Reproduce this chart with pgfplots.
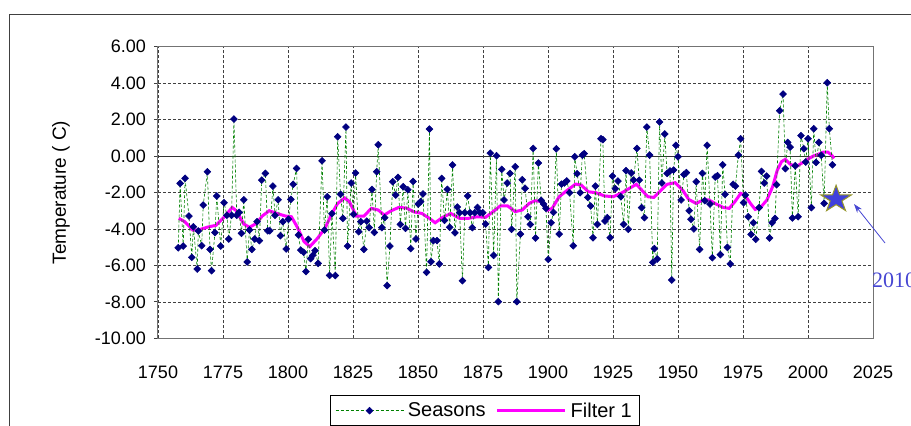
\documentclass[border=0pt]{standalone}
\usepackage{fontspec}
\setmainfont{Liberation Sans}
\newfontfamily\notefont{Liberation Serif}
\usepackage{pgfplots}
\pgfplotsset{compat=1.18}
\usetikzlibrary{arrows.meta}

\definecolor{navy}{RGB}{0,0,128}
\definecolor{seasgreen}{RGB}{0,128,0}
\definecolor{filtmag}{RGB}{255,0,255}
\definecolor{starblue}{RGB}{64,64,220}
\definecolor{starrim}{RGB}{150,150,40}
\definecolor{noteblue}{RGB}{70,70,210}

% filled five-pointed star, slightly wider than tall
\pgfdeclareplotmark{fivestar}{%
  \pgfpathmoveto{\pgfpoint{0pt}{\pgfplotmarksize}}%
  \pgfpathlineto{\pgfpoint{-0.2582\pgfplotmarksize}{0.3090\pgfplotmarksize}}%
  \pgfpathlineto{\pgfpoint{-1.0938\pgfplotmarksize}{0.3090\pgfplotmarksize}}%
  \pgfpathlineto{\pgfpoint{-0.4178\pgfplotmarksize}{-0.1180\pgfplotmarksize}}%
  \pgfpathlineto{\pgfpoint{-0.6760\pgfplotmarksize}{-0.8090\pgfplotmarksize}}%
  \pgfpathlineto{\pgfpoint{0pt}{-0.3820\pgfplotmarksize}}%
  \pgfpathlineto{\pgfpoint{0.6760\pgfplotmarksize}{-0.8090\pgfplotmarksize}}%
  \pgfpathlineto{\pgfpoint{0.4178\pgfplotmarksize}{-0.1180\pgfplotmarksize}}%
  \pgfpathlineto{\pgfpoint{1.0938\pgfplotmarksize}{0.3090\pgfplotmarksize}}%
  \pgfpathlineto{\pgfpoint{0.2582\pgfplotmarksize}{0.3090\pgfplotmarksize}}%
  \pgfpathclose
  \pgfusepathqfillstroke
}

\pgfplotsset{
  seasons/.style={draw=seasgreen, line width=0.6pt, dash pattern=on 3pt off 2pt,
    mark=square*, mark size=2.4pt,
    mark options={solid, rotate=45, fill=navy, draw=navy}},
  filterline/.style={draw=filtmag, line width=3pt, no markers},
}

\begin{document}
\begin{tikzpicture}[x=1pt,y=1pt]
\useasboundingbox (0,0) rectangle (911,426);
\clip (0,0) rectangle (911,426);
% chart-area frame
\draw[black!75, line width=1pt] (9,0) -- (9,411) -- (911,411);

\begin{axis}[
  at={(158pt,87.7pt)}, anchor=south west,
  scale only axis, width=715pt, height=291.6pt,
  xmin=1750, xmax=2025, ymin=-10, ymax=6,
  xtick={1750,1775,...,2025},
  xticklabels={1750,1775,1800,1825,1850,1875,1900,1925,1950,1975,2000,2025},
  ytick={-10,-8,...,6},
  yticklabels={-10.00,-8.00,-6.00,-4.00,-2.00,0.00,2.00,4.00,6.00},
  xmajorgrids, ymajorgrids,
  major grid style={black!75, dash pattern=on 3pt off 2pt, line width=0.7pt},
  axis line style={black!55, line width=1pt},
  xtick pos=bottom, ytick pos=left,
  xtick style={draw=none},
  ytick style={black!75, line width=0.8pt},
  tick align=outside, major tick length=4pt,
  ticklabel style={font=\fontsize{18}{21}\selectfont},
  xticklabel style={anchor=center, yshift=-30pt},
  yticklabel style={anchor=east, inner sep=0pt, xshift=-8pt},
  extra y ticks={0}, extra y tick labels={},
  extra y tick style={ymajorgrids=true,
    major grid style={solid, black!80, line width=1pt},
    tick style={draw=none}},
  ylabel={Temperature ( C)},
  ylabel style={at={(axis description cs:-0.1357,0.5)}, anchor=center,
    font=\fontsize{19}{22}\selectfont},
  legend columns=2,
  legend cell align=left,
  legend style={at={(axis description cs:0.2406,-0.196)}, anchor=north west,
    name=keybox, draw=none, fill=white, font=\fontsize{20}{23}\selectfont,
    inner xsep=5pt, inner ysep=5pt,
    /tikz/every odd column/.append style={column sep=2pt},
    /tikz/every even column/.append style={column sep=8pt}},
  legend image code/.code={%
    \draw[mark repeat=2, mark phase=2, #1]
      plot coordinates {(0pt,0pt) (34pt,0pt) (68pt,0pt)};},
]

% smoothed series
\addplot[filterline, forget plot] coordinates {
(1758.0,-3.42) (1760.3,-3.60) (1763.4,-4.06) (1765.6,-4.06) (1769.0,-3.90)
(1772.3,-3.80) (1775.6,-3.33) (1778.5,-2.82) (1780.1,-3.00) (1783.0,-3.73)
(1785.2,-3.91) (1787.9,-3.69) (1790.1,-3.29) (1792.8,-3.00) (1795.7,-3.15)
(1799.0,-3.29) (1801.3,-3.33) (1803.5,-3.88) (1806.2,-4.70) (1808.4,-4.97)
(1811.3,-4.52) (1814.2,-3.97) (1816.9,-3.15) (1819.1,-2.60) (1821.8,-2.30)
(1823.6,-2.50) (1826.3,-3.29) (1829.2,-3.29) (1832.1,-2.87) (1834.7,-2.96)
(1837.0,-3.24) (1839.7,-3.00) (1842.6,-2.82) (1845.5,-2.85) (1848.6,-3.07)
(1851.5,-3.15) (1854.4,-3.42) (1856.6,-3.66) (1859.3,-3.38) (1862.6,-3.15)
(1866.0,-3.42) (1869.3,-3.42) (1872.7,-3.33) (1876.0,-3.36) (1878.9,-3.05)
(1881.6,-2.74) (1884.5,-2.74) (1887.4,-3.05) (1890.1,-2.96) (1892.7,-2.60)
(1895.0,-2.45) (1897.6,-2.50) (1899.9,-2.96) (1901.6,-2.87) (1904.3,-2.23)
(1907.2,-1.90) (1910.6,-1.54) (1912.8,-1.59) (1915.5,-1.96) (1918.4,-2.01)
(1921.7,-2.19) (1925.1,-2.23) (1928.0,-2.05) (1930.6,-1.83) (1934.0,-1.55)
(1935.8,-1.83) (1938.4,-2.23) (1940.7,-2.27) (1942.9,-1.96) (1945.8,-1.55)
(1948.9,-1.46) (1951.8,-1.87) (1954.1,-2.38) (1957.0,-2.60) (1959.6,-2.41)
(1961.9,-2.41) (1964.6,-2.63) (1967.4,-2.82) (1969.7,-2.87) (1971.9,-2.50)
(1974.1,-2.05) (1975.7,-2.14) (1978.0,-2.63) (1979.7,-2.93) (1982.0,-2.78)
(1984.2,-2.41) (1986.4,-1.68) (1988.2,-0.77) (1989.8,-0.31) (1991.3,-0.18)
(1993.1,-0.44) (1995.3,-0.59) (1997.5,-0.40) (1999.8,-0.18) (2002.0,0.00)
(2004.2,0.11) (2006.0,0.22) (2007.6,0.22) (2009.1,0.05) (2010.0,-0.13)
};

% seasonal values
\addplot[seasons] coordinates {
(1757.8,-5.03) (1758.5,-1.50) (1759.7,-4.94) (1760.4,-1.22) (1761.9,-3.29)
(1763.0,-5.56) (1763.6,-3.88) (1765.1,-6.20) (1765.5,-4.11) (1766.8,-4.92)
(1767.4,-2.69) (1769.0,-0.86) (1770.0,-5.12) (1770.6,-6.29) (1771.9,-4.20)
(1772.6,-2.19) (1774.1,-4.94) (1775.4,-2.56) (1776.5,-3.25) (1777.2,-4.55)
(1778.3,-3.25) (1779.2,2.03) (1780.3,-3.25) (1781.2,-3.09) (1782.1,-4.24)
(1783.0,-2.40) (1784.3,-5.81) (1785.2,-4.06) (1786.1,-5.12) (1787.2,-4.55)
(1788.1,-3.60) (1789.0,-4.64) (1789.9,-1.32) (1791.3,-0.95) (1792.2,-4.10)
(1793.0,-4.10) (1794.2,-1.65) (1795.0,-3.25) (1796.2,-2.40) (1797.1,-4.37)
(1798.0,-3.60) (1799.3,-5.10) (1800.2,-3.47) (1801.1,-2.38) (1802.0,-1.55)
(1803.3,-0.68) (1804.0,-4.33) (1804.9,-5.16) (1806.0,-5.28) (1806.9,-6.34)
(1807.8,-4.57) (1808.7,-5.63) (1809.5,-5.45) (1810.4,-5.19) (1811.6,-5.89)
(1813.1,-0.26) (1814.0,-4.06) (1815.1,-2.23) (1816.0,-6.55) (1816.9,-3.16)
(1818.2,-6.56) (1819.1,1.06) (1820.2,-2.10) (1821.1,-3.42) (1822.3,1.59)
(1822.9,-4.94) (1824.3,-1.48) (1825.2,-3.20) (1826.0,-0.93) (1827.2,-4.15)
(1828.0,-3.60) (1829.2,-5.12) (1830.3,-3.57) (1831.2,-3.93) (1832.3,-1.83)
(1833.2,-4.19) (1834.1,-0.86) (1834.7,0.62) (1836.1,-3.93) (1837.2,-3.38)
(1838.1,-7.11) (1839.2,-4.94) (1840.3,-1.41) (1841.4,-2.14) (1842.3,-1.17)
(1843.2,-3.75) (1844.3,-1.68) (1845.2,-3.97) (1846.1,-1.85) (1847.2,-5.08)
(1848.1,-1.39) (1849.2,-4.55) (1850.1,-2.63) (1851.0,-2.50) (1851.9,-2.08)
(1853.3,-6.38) (1854.4,1.48) (1855.0,-5.80) (1855.9,-4.64) (1857.3,-4.64)
(1858.2,-5.92) (1859.1,-1.23) (1860.2,-3.53) (1861.3,-1.83) (1862.2,-3.91)
(1863.3,-0.49) (1864.2,-4.21) (1865.1,-2.80) (1866.0,-3.11) (1867.1,-6.84)
(1868.0,-3.11) (1869.1,-2.19) (1870.0,-3.11) (1870.9,-3.93) (1871.8,-3.11)
(1872.9,-2.82) (1873.8,-3.11) (1874.9,-3.11) (1876.0,-3.73) (1877.1,-6.11)
(1877.8,0.16) (1879.1,-5.45) (1880.2,0.02) (1880.9,-7.99) (1882.2,-0.73)
(1883.1,-2.41) (1884.3,-1.48) (1885.4,-0.95) (1886.0,-4.02) (1887.4,-0.59)
(1888.0,-7.99) (1889.4,-4.28) (1890.1,-1.30) (1891.2,-1.77) (1892.3,-3.33)
(1893.2,-3.75) (1894.3,0.42) (1895.2,-4.50) (1896.3,-0.38) (1897.4,-2.43)
(1898.3,-2.63) (1899.2,-2.87) (1900.1,-5.67) (1901.2,-3.66) (1902.1,-3.09)
(1903.2,0.40) (1904.3,-4.28) (1905.2,-1.54) (1906.3,-1.48) (1907.2,-1.37)
(1908.3,-2.01) (1909.7,-4.92) (1910.3,-0.04) (1911.2,-0.97) (1912.4,-2.01)
(1913.2,0.05) (1913.9,0.13) (1915.3,-2.27) (1916.4,-2.74) (1917.3,-4.48)
(1918.2,-1.65) (1919.0,-3.75) (1920.4,0.95) (1921.1,0.90) (1921.9,-3.57)
(1922.8,-3.38) (1923.9,-4.48) (1924.8,-1.10) (1925.9,-1.79) (1926.9,-1.37)
(1928.0,-2.23) (1929.1,-3.75) (1930.0,-0.80) (1930.9,-4.02) (1932.0,-0.93)
(1932.9,-1.32) (1934.2,0.42) (1935.1,-1.32) (1936.0,-2.83) (1937.1,-3.38)
(1938.0,1.59) (1939.1,0.05) (1940.3,-5.83) (1940.9,-5.08) (1942.0,-5.65)
(1942.9,1.87) (1943.8,-1.48) (1944.9,1.21) (1945.8,-0.95) (1946.9,-0.82)
(1947.6,-6.80) (1948.3,-0.77) (1949.2,0.59) (1950.0,-0.04) (1951.2,-2.41)
(1952.3,-1.01) (1953.2,-0.91) (1954.3,-3.00) (1955.0,-3.47) (1956.1,-4.00)
(1957.0,-1.41) (1958.3,-5.12) (1959.4,-0.95) (1960.3,-2.45) (1961.2,0.59)
(1962.3,-2.63) (1963.2,-5.58) (1964.3,-1.15) (1965.2,-1.08) (1966.3,-5.41)
(1967.2,-0.48) (1968.1,-2.10) (1969.0,-5.01) (1970.1,-5.92) (1971.2,-1.55)
(1972.1,-1.65) (1973.2,0.05) (1974.1,0.95) (1975.2,-2.56) (1975.9,-2.14)
(1977.0,-3.33) (1978.1,-4.30) (1979.0,-3.66) (1979.9,-4.57) (1981.2,-2.83)
(1982.1,-0.84) (1983.2,-1.48) (1984.1,-1.10) (1985.2,-4.50) (1986.2,-3.66)
(1987.3,-3.42) (1987.9,-1.57) (1989.1,2.49) (1990.4,3.40) (1991.3,-0.69)
(1992.2,0.75) (1993.1,0.49) (1994.0,-3.40) (1995.1,-0.53) (1996.2,-3.33)
(1997.3,1.12) (1998.4,0.40) (1999.1,-0.33) (2000.0,0.95) (2001.3,-2.83)
(2002.2,1.50) (2003.1,-0.35) (2004.2,0.75) (2005.1,0.04) (2006.2,-2.60)
(2007.4,4.02) (2008.2,1.50) (2009.4,-0.48)
};
\addlegendentry{Seasons}
\addlegendimage{filterline}
\addlegendentry{Filter 1}

% 2010 value
\addplot[forget plot, only marks, mark=fivestar, mark size=14pt,
  mark options={fill=starblue, draw=starrim, line width=1pt}]
  coordinates {(2010.8,-2.37)};
\end{axis}

% frame round the key
\draw[black, line width=0.8pt] (keybox.south west) rectangle (keybox.north east);

% annotation for 2010
\draw[noteblue, line width=0.8pt, -{Stealth[length=9pt,width=6pt]}] (885,183) -- (854,222);
\node[anchor=base west, inner sep=0pt, text=noteblue,
  font=\notefont\fontsize{22}{24}\selectfont] at (872,138) {2010};
\end{tikzpicture}
\end{document}
